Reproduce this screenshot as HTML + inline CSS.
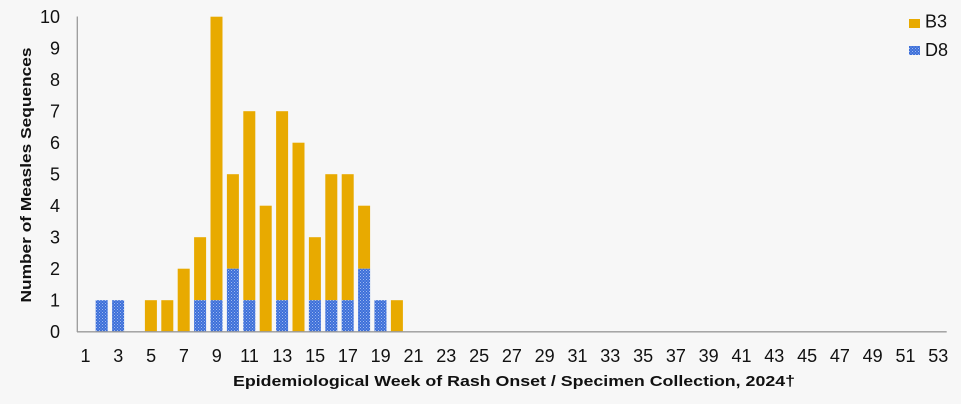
<!DOCTYPE html>
<html>
<head>
<meta charset="utf-8">
<style>
  html, body { margin: 0; padding: 0; background: #f7f7f7; }
  svg { display: block; }
  text { font-family: "Liberation Sans", Arial, sans-serif; fill: #111; }
</style>
</head>
<body>
<svg width="961" height="404" viewBox="0 0 961 404" xmlns="http://www.w3.org/2000/svg">
  <defs>
    <pattern id="dots" width="3" height="3" patternUnits="userSpaceOnUse">
      <rect width="3" height="3" fill="#3d6fd8"/>
      <rect x="0" y="0" width="1" height="1" fill="#9db8f0"/>
      <rect x="1.5" y="1.5" width="1" height="1" fill="#8aaaf0"/>
    </pattern>
  </defs>
  <rect width="961" height="404" fill="#f7f7f7"/>

  <!-- Y tick labels -->
  <g font-size="18" text-anchor="end">
    <text x="60" y="338">0</text>
    <text x="60" y="306.5">1</text>
    <text x="60" y="275">2</text>
    <text x="60" y="243.5">3</text>
    <text x="60" y="212">4</text>
    <text x="60" y="180.5">5</text>
    <text x="60" y="149">6</text>
    <text x="60" y="117.5">7</text>
    <text x="60" y="86">8</text>
    <text x="60" y="54.5">9</text>
    <text x="60" y="23">10</text>
  </g>

  <!-- Y axis title -->
  <text x="0" y="0" font-size="15" font-weight="bold" text-anchor="middle" transform="translate(31,175) rotate(-90)" textLength="255" lengthAdjust="spacingAndGlyphs">Number of Measles Sequences</text>

  <!-- Bars: slot = 16.4, x0 = 77.3, bar width 12 -->
  <g id="bars">
    <!-- week 2: D8 1 -->
    <rect x="95.7" y="300.2" width="12" height="31.5" fill="url(#dots)"/>
    <!-- week 3: D8 1 -->
    <rect x="112.1" y="300.2" width="12" height="31.5" fill="url(#dots)"/>
    <!-- week 5: B3 1 -->
    <rect x="144.9" y="300.2" width="12" height="31.5" fill="#e8aa00"/>
    <!-- week 6 -->
    <rect x="161.3" y="300.2" width="12" height="31.5" fill="#e8aa00"/>
    <!-- week 7: B3 2 -->
    <rect x="177.7" y="268.7" width="12" height="63" fill="#e8aa00"/>
    <!-- week 8: total 3, D8 1 -->
    <rect x="194.1" y="237.2" width="12" height="63" fill="#e8aa00"/>
    <rect x="194.1" y="300.2" width="12" height="31.5" fill="url(#dots)"/>
    <!-- week 9: total 10, D8 1 -->
    <rect x="210.5" y="16.7" width="12" height="283.5" fill="#e8aa00"/>
    <rect x="210.5" y="300.2" width="12" height="31.5" fill="url(#dots)"/>
    <!-- week 10: total 5, D8 2 -->
    <rect x="226.9" y="174.2" width="12" height="94.5" fill="#e8aa00"/>
    <rect x="226.9" y="268.7" width="12" height="63" fill="url(#dots)"/>
    <!-- week 11: total 7, D8 1 -->
    <rect x="243.3" y="111.2" width="12" height="189" fill="#e8aa00"/>
    <rect x="243.3" y="300.2" width="12" height="31.5" fill="url(#dots)"/>
    <!-- week 12: total 4 -->
    <rect x="259.7" y="205.7" width="12" height="126" fill="#e8aa00"/>
    <!-- week 13: total 7, D8 1 -->
    <rect x="276.1" y="111.2" width="12" height="189" fill="#e8aa00"/>
    <rect x="276.1" y="300.2" width="12" height="31.5" fill="url(#dots)"/>
    <!-- week 14: total 6 -->
    <rect x="292.5" y="142.7" width="12" height="189" fill="#e8aa00"/>
    <!-- week 15: total 3, D8 1 -->
    <rect x="308.9" y="237.2" width="12" height="63" fill="#e8aa00"/>
    <rect x="308.9" y="300.2" width="12" height="31.5" fill="url(#dots)"/>
    <!-- week 16: total 5, D8 1 -->
    <rect x="325.3" y="174.2" width="12" height="126" fill="#e8aa00"/>
    <rect x="325.3" y="300.2" width="12" height="31.5" fill="url(#dots)"/>
    <!-- week 17: total 5, D8 1 -->
    <rect x="341.7" y="174.2" width="12" height="126" fill="#e8aa00"/>
    <rect x="341.7" y="300.2" width="12" height="31.5" fill="url(#dots)"/>
    <!-- week 18: total 4, D8 2 -->
    <rect x="358.1" y="205.7" width="12" height="63" fill="#e8aa00"/>
    <rect x="358.1" y="268.7" width="12" height="63" fill="url(#dots)"/>
    <!-- week 19: D8 1 -->
    <rect x="374.5" y="300.2" width="12" height="31.5" fill="url(#dots)"/>
    <!-- week 20: B3 1 -->
    <rect x="390.9" y="300.2" width="12" height="31.5" fill="#e8aa00"/>
  </g>

  <!-- Axes -->
  <line x1="77.3" y1="16.5" x2="77.3" y2="332" stroke="#9a9a9a" stroke-width="1.3"/>
  <line x1="77" y1="331.8" x2="946.7" y2="331.8" stroke="#9a9a9a" stroke-width="1.3"/>

  <!-- X tick labels (odd weeks), center = 77.3 + (w-0.5)*16.4 -->
  <g font-size="18" text-anchor="middle">
    <text x="85.5" y="362">1</text>
    <text x="118.3" y="362">3</text>
    <text x="151.1" y="362">5</text>
    <text x="183.9" y="362">7</text>
    <text x="216.7" y="362">9</text>
    <text x="249.5" y="362">11</text>
    <text x="282.3" y="362">13</text>
    <text x="315.1" y="362">15</text>
    <text x="347.9" y="362">17</text>
    <text x="380.7" y="362">19</text>
    <text x="413.5" y="362">21</text>
    <text x="446.3" y="362">23</text>
    <text x="479.1" y="362">25</text>
    <text x="511.9" y="362">27</text>
    <text x="544.7" y="362">29</text>
    <text x="577.5" y="362">31</text>
    <text x="610.3" y="362">33</text>
    <text x="643.1" y="362">35</text>
    <text x="675.9" y="362">37</text>
    <text x="708.7" y="362">39</text>
    <text x="741.5" y="362">41</text>
    <text x="774.3" y="362">43</text>
    <text x="807.1" y="362">45</text>
    <text x="839.9" y="362">47</text>
    <text x="872.7" y="362">49</text>
    <text x="905.5" y="362">51</text>
    <text x="938.3" y="362">53</text>
  </g>

  <!-- X axis title -->
  <text x="233" y="386" font-size="15" font-weight="bold" textLength="562" lengthAdjust="spacingAndGlyphs">Epidemiological Week of Rash Onset / Specimen Collection, 2024†</text>

  <!-- Legend -->
  <rect x="909" y="19" width="11" height="9" fill="#e8aa00"/>
  <text x="925" y="27.5" font-size="18">B3</text>
  <rect x="909" y="46" width="11" height="9" fill="url(#dots)"/>
  <text x="925" y="56" font-size="18">D8</text>
</svg>
</body>
</html>
